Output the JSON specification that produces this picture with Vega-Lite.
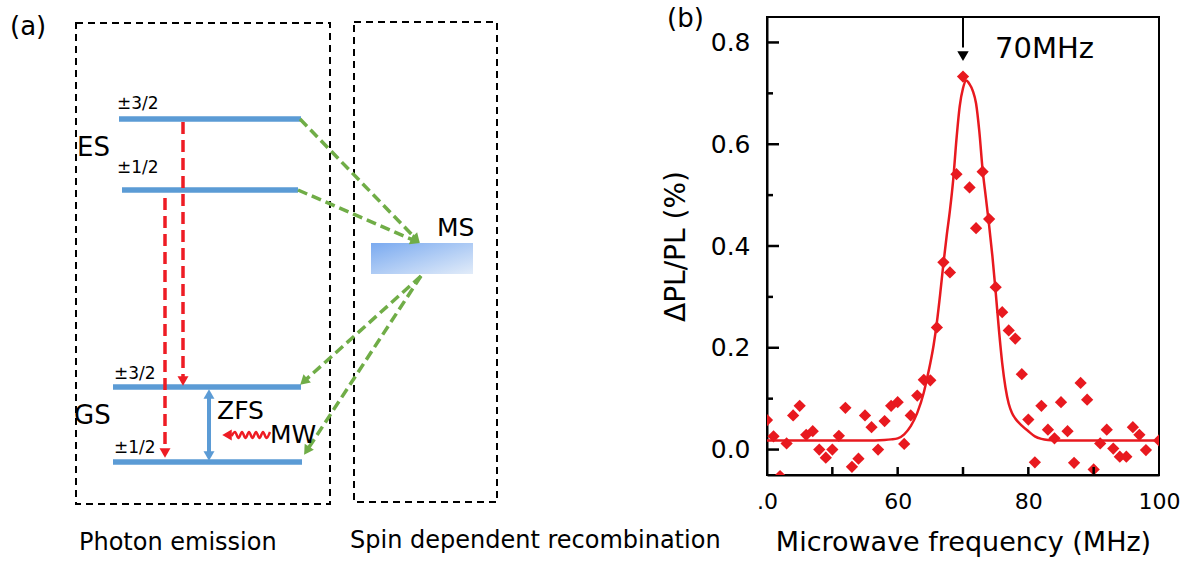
{
  "$schema": "https://vega.github.io/schema/vega-lite/v6.json",
  "padding": 0,
  "background": "white",
  "config": {"view": {"stroke": null}, "font": "DejaVu Sans"},
  "spacing": 0,
  "bounds": "flush",
  "datasets": {
    "canvas": [{"x": 0, "x2": 767, "y": 0, "y2": 563}],
    "boxes": [{"x": 76, "x2": 330, "y": 23, "y2": 504}, {"x": 354, "x2": 497, "y": 22, "y2": 502}],
    "levels": [
      {"x": 119, "x2": 301, "y": 119, "y2": 119},
      {"x": 122, "x2": 298, "y": 190, "y2": 190},
      {"x": 113, "x2": 301, "y": 387, "y2": 387},
      {"x": 113, "x2": 302, "y": 462, "y2": 462}
    ],
    "zfs": [{"x": 209, "x2": 209, "y": 397, "y2": 453}],
    "emission": [{"x": 183, "x2": 183, "y": 122, "y2": 377}, {"x": 165, "x2": 165, "y": 198, "y2": 449}],
    "recomb": [
      {"x": 300, "y": 119, "x2": 416.5, "y2": 239.4},
      {"x": 298, "y": 190, "x2": 415.4, "y2": 241},
      {"x": 421, "y": 276, "x2": 303.7, "y2": 381.6},
      {"x": 421, "y": 276, "x2": 306.7, "y2": 450.8}
    ],
    "ms": [{"x": 371, "x2": 473, "y": 243, "y2": 274}],
    "heads": [
      {"x": 183, "y": 381, "ang": 180, "kind": "emission"},
      {"x": 165, "y": 453, "ang": 180, "kind": "emission"},
      {"x": 416.5, "y": 239.4, "ang": 136, "kind": "recombination"},
      {"x": 415.4, "y": 241, "ang": 113.5, "kind": "recombination"},
      {"x": 303.7, "y": 381.6, "ang": 227.5, "kind": "recombination"},
      {"x": 306.7, "y": 450.8, "ang": 212.9, "kind": "recombination"},
      {"x": 209, "y": 394, "ang": 0, "kind": "zfs"},
      {"x": 209, "y": 456, "ang": 180, "kind": "zfs"},
      {"x": 227, "y": 435, "ang": 270, "kind": "mw"}
    ],
    "wave": [
      {"x": 270, "y": 432}, {"x": 266.5, "y": 438}, {"x": 263, "y": 432}, {"x": 259.5, "y": 438},
      {"x": 256, "y": 432}, {"x": 252.5, "y": 438}, {"x": 249, "y": 432}, {"x": 245.5, "y": 438},
      {"x": 242, "y": 432}, {"x": 238.5, "y": 438}, {"x": 235, "y": 432}, {"x": 231.5, "y": 436}
    ],
    "tbig": [
      {"x": 10, "y": 27, "t": "(a)"}, {"x": 77, "y": 148, "t": "ES"},
      {"x": 74, "y": 416, "t": "GS"}, {"x": 667, "y": 19, "t": "(b)"}
    ],
    "tmid": [{"x": 217, "y": 411, "t": "ZFS"}, {"x": 270, "y": 435, "t": "MW"}, {"x": 437, "y": 228, "t": "MS"}],
    "tsmall": [
      {"x": 117, "y": 104, "t": "±3/2"}, {"x": 117, "y": 168, "t": "±1/2"},
      {"x": 114, "y": 374, "t": "±3/2"}, {"x": 114, "y": 448, "t": "±1/2"}
    ],
    "tcap": [{"x": 79, "y": 543, "t": "Photon emission"}, {"x": 350, "y": 541, "t": "Spin dependent recombination"}],
    "pts": [
      {"f": 40, "v": 0.058}, {"f": 41, "v": 0.026}, {"f": 42, "v": -0.052}, {"f": 43, "v": 0.012},
      {"f": 44, "v": 0.067}, {"f": 45, "v": 0.086}, {"f": 46, "v": 0.029}, {"f": 47, "v": 0.036},
      {"f": 48, "v": 0.0}, {"f": 49, "v": -0.016}, {"f": 50, "v": 0.0}, {"f": 51, "v": 0.027},
      {"f": 52, "v": 0.082}, {"f": 53, "v": -0.034}, {"f": 54, "v": -0.018}, {"f": 55, "v": 0.067},
      {"f": 56, "v": 0.044}, {"f": 57, "v": 0.0}, {"f": 58, "v": 0.056}, {"f": 59, "v": 0.086},
      {"f": 60, "v": 0.093}, {"f": 61, "v": 0.011}, {"f": 62, "v": 0.067}, {"f": 63, "v": 0.106},
      {"f": 64, "v": 0.137}, {"f": 65, "v": 0.136}, {"f": 66, "v": 0.24}, {"f": 67, "v": 0.368},
      {"f": 68, "v": 0.348}, {"f": 69, "v": 0.541}, {"f": 70, "v": 0.733}, {"f": 71, "v": 0.515},
      {"f": 72, "v": 0.435}, {"f": 73, "v": 0.546}, {"f": 74, "v": 0.453}, {"f": 75, "v": 0.319},
      {"f": 76, "v": 0.27}, {"f": 77, "v": 0.234}, {"f": 78, "v": 0.218}, {"f": 79, "v": 0.148},
      {"f": 80, "v": 0.059}, {"f": 81, "v": -0.025}, {"f": 82, "v": 0.086}, {"f": 83, "v": 0.039},
      {"f": 84, "v": 0.022}, {"f": 85, "v": 0.093}, {"f": 86, "v": 0.036}, {"f": 87, "v": -0.026},
      {"f": 88, "v": 0.131}, {"f": 89, "v": 0.098}, {"f": 90, "v": -0.039}, {"f": 91, "v": 0.012},
      {"f": 92, "v": 0.039}, {"f": 93, "v": 0.002}, {"f": 94, "v": -0.014}, {"f": 95, "v": -0.014},
      {"f": 96, "v": 0.044}, {"f": 97, "v": 0.029}, {"f": 98, "v": -0.001}, {"f": 100, "v": 0.018}
    ],
    "fit": [
      {"f": 40, "v": 0.018}, {"f": 45, "v": 0.018}, {"f": 50, "v": 0.018}, {"f": 55, "v": 0.018},
      {"f": 58, "v": 0.019}, {"f": 59, "v": 0.02}, {"f": 60, "v": 0.022}, {"f": 61, "v": 0.03},
      {"f": 62, "v": 0.046}, {"f": 63, "v": 0.072}, {"f": 64, "v": 0.112}, {"f": 64.5, "v": 0.14},
      {"f": 65, "v": 0.17}, {"f": 65.5, "v": 0.205}, {"f": 66, "v": 0.25}, {"f": 66.5, "v": 0.305},
      {"f": 67, "v": 0.365}, {"f": 67.5, "v": 0.42}, {"f": 68, "v": 0.47}, {"f": 68.5, "v": 0.53},
      {"f": 69, "v": 0.61}, {"f": 69.5, "v": 0.675}, {"f": 70, "v": 0.71}, {"f": 70.5, "v": 0.725},
      {"f": 71, "v": 0.718}, {"f": 71.5, "v": 0.705}, {"f": 72, "v": 0.68}, {"f": 72.5, "v": 0.625},
      {"f": 73, "v": 0.55}, {"f": 73.5, "v": 0.495}, {"f": 74, "v": 0.44}, {"f": 74.5, "v": 0.38},
      {"f": 75, "v": 0.31}, {"f": 75.5, "v": 0.235}, {"f": 76, "v": 0.17}, {"f": 76.5, "v": 0.122},
      {"f": 77, "v": 0.09}, {"f": 77.5, "v": 0.072}, {"f": 78, "v": 0.061}, {"f": 79, "v": 0.047},
      {"f": 80, "v": 0.036}, {"f": 81, "v": 0.026}, {"f": 82, "v": 0.021}, {"f": 83, "v": 0.019},
      {"f": 85, "v": 0.018}, {"f": 90, "v": 0.018}, {"f": 95, "v": 0.018}, {"f": 100, "v": 0.018}
    ],
    "arrow": [{"f": 70, "v": 0.85, "v2": 0.79}],
    "arrowhead": [{"f": 70, "v": 0.773}],
    "label70": [{"f": 74.9, "v": 0.788, "t": "70MHz"}]
  },
  "hconcat": [
    {
      "width": 767,
      "height": 458,
      "encoding": {
        "x": {"field": "x", "type": "quantitative", "scale": {"domain": [0, 767], "nice": false, "zero": false}, "axis": null},
        "y": {"field": "y", "type": "quantitative", "scale": {"domain": [475, 17], "nice": false, "zero": false}, "axis": null}
      },
      "layer": [
        {"data": {"name": "canvas"}, "mark": {"type": "rect", "fill": "white"}, "encoding": {"x2": {"field": "x2"}, "y2": {"field": "y2"}}},
        {"data": {"name": "boxes"}, "mark": {"type": "rect", "fill": null, "stroke": "black", "strokeWidth": 2, "strokeDash": [7, 5]}, "encoding": {"x2": {"field": "x2"}, "y2": {"field": "y2"}}},
        {"data": {"name": "ms"}, "mark": {"type": "rect", "fill": {"gradient": "linear", "x1": 0, "y1": 0, "x2": 1, "y2": 1, "stops": [{"offset": 0, "color": "#7aaaf0"}, {"offset": 1, "color": "#e2ecf9"}]}}, "encoding": {"x2": {"field": "x2"}, "y2": {"field": "y2"}}},
        {"data": {"name": "levels"}, "mark": {"type": "rule", "color": "#5b9bd5", "strokeWidth": 5.5}, "encoding": {"x2": {"field": "x2"}, "y2": {"field": "y2"}}},
        {"data": {"name": "zfs"}, "mark": {"type": "rule", "color": "#5b9bd5", "strokeWidth": 4}, "encoding": {"x2": {"field": "x2"}, "y2": {"field": "y2"}}},
        {"data": {"name": "emission"}, "mark": {"type": "rule", "color": "#ee1c24", "strokeWidth": 3.5, "strokeDash": [12, 6]}, "encoding": {"x2": {"field": "x2"}, "y2": {"field": "y2"}}},
        {"data": {"name": "recomb"}, "mark": {"type": "rule", "color": "#70ad47", "strokeWidth": 3.5, "strokeDash": [10, 5]}, "encoding": {"x2": {"field": "x2"}, "y2": {"field": "y2"}}},
        {"data": {"name": "wave"}, "mark": {"type": "line", "color": "#ee1c24", "strokeWidth": 2.5, "interpolate": "monotone"}, "encoding": {}},
        {
          "data": {"name": "heads"},
          "mark": {"type": "point", "shape": "triangle-up", "filled": true, "size": 120, "opacity": 1, "strokeWidth": 0},
          "encoding": {
            "angle": {"field": "ang", "type": "quantitative", "scale": null},
            "color": {"field": "kind", "type": "nominal", "legend": null, "scale": {"domain": ["emission", "recombination", "zfs", "mw"], "range": ["#ee1c24", "#70ad47", "#5b9bd5", "#ee1c24"]}}
          }
        },
        {"data": {"name": "tbig"}, "mark": {"type": "text", "fontSize": 26, "align": "left", "baseline": "middle", "color": "black"}, "encoding": {"text": {"field": "t"}}},
        {"data": {"name": "tmid"}, "mark": {"type": "text", "fontSize": 25, "align": "left", "baseline": "middle", "color": "black"}, "encoding": {"text": {"field": "t"}}},
        {"data": {"name": "tsmall"}, "mark": {"type": "text", "fontSize": 17, "align": "left", "baseline": "middle", "color": "black"}, "encoding": {"text": {"field": "t"}}},
        {"data": {"name": "tcap"}, "mark": {"type": "text", "fontSize": 24, "align": "left", "baseline": "middle", "color": "black"}, "encoding": {"text": {"field": "t"}}}
      ]
    },
    {
      "width": 392,
      "height": 458,
      "view": {"stroke": "black", "strokeWidth": 2, "fill": null},
      "encoding": {
        "x": {
          "field": "f", "type": "quantitative",
          "scale": {"domain": [40, 100], "nice": false, "zero": false},
          "axis": {
            "title": "Microwave frequency (MHz)",
            "values": [40, 60, 80, 100],
            "labelExpr": "datum.value == 40 ? '.0' : datum.label",
            "labelFlush": false, "labelOverlap": false, "grid": false,
            "domainColor": "black", "domainWidth": 2,
            "ticks": false, "tickSize": 0,
            "labelFontSize": 22, "labelColor": "black", "labelPadding": 16,
            "titleFontSize": 27, "titleFontWeight": "normal", "titleColor": "black", "titlePadding": 17
          }
        },
        "y": {
          "field": "v", "type": "quantitative",
          "scale": {"domain": [-0.05, 0.85], "nice": false, "zero": false},
          "axis": {
            "title": "ΔPL/PL (%)",
            "values": [0, 0.2, 0.4, 0.6, 0.8],
            "format": ".1f",
            "labelOverlap": false, "grid": false,
            "domainColor": "black", "domainWidth": 2,
            "ticks": false, "tickSize": 0,
            "labelFontSize": 25, "labelColor": "black", "labelPadding": 17,
            "titleFontSize": 28, "titleFontWeight": "normal", "titleColor": "black", "titlePadding": 20
          }
        }
      },
      "layer": [
        {"data": {"name": "fit"}, "mark": {"type": "line", "color": "#e8191f", "strokeWidth": 2.5, "interpolate": "monotone", "clip": true}, "encoding": {}},
        {"data": {"name": "pts"}, "mark": {"type": "point", "shape": "diamond", "filled": true, "size": 150, "color": "#e8191f", "opacity": 1, "clip": true}, "encoding": {}},
        {"data": {"name": "arrow"}, "mark": {"type": "rule", "color": "black", "strokeWidth": 2}, "encoding": {"y2": {"field": "v2"}}},
        {"data": {"name": "arrowhead"}, "mark": {"type": "point", "shape": "triangle-down", "filled": true, "size": 130, "color": "black", "opacity": 1}, "encoding": {}},
        {"data": {"name": "label70"}, "mark": {"type": "text", "fontSize": 29, "align": "left", "baseline": "middle", "color": "black"}, "encoding": {"text": {"field": "t"}}},
        {
          "data": {"values": [{"f": 50, "v": -0.05}, {"f": 60, "v": -0.05}, {"f": 70, "v": -0.05}, {"f": 80, "v": -0.05}, {"f": 90, "v": -0.05}]},
          "mark": {"type": "point", "shape": "stroke", "angle": 90, "size": 64, "filled": false, "color": "black", "strokeWidth": 2.5, "opacity": 1, "yOffset": -4}
        },
        {
          "data": {"values": [{"f": 40, "v": 0}, {"f": 40, "v": 0.2}, {"f": 40, "v": 0.4}, {"f": 40, "v": 0.6}, {"f": 40, "v": 0.8}]},
          "mark": {"type": "point", "shape": "stroke", "size": 144, "filled": false, "color": "black", "strokeWidth": 2.5, "opacity": 1, "xOffset": 6}
        },
        {
          "data": {"values": [{"f": 40, "v": 0.1}, {"f": 40, "v": 0.3}, {"f": 40, "v": 0.5}, {"f": 40, "v": 0.7}]},
          "mark": {"type": "point", "shape": "stroke", "size": 36, "filled": false, "color": "black", "strokeWidth": 2.5, "opacity": 1, "xOffset": 3}
        }
      ]
    }
  ]
}
